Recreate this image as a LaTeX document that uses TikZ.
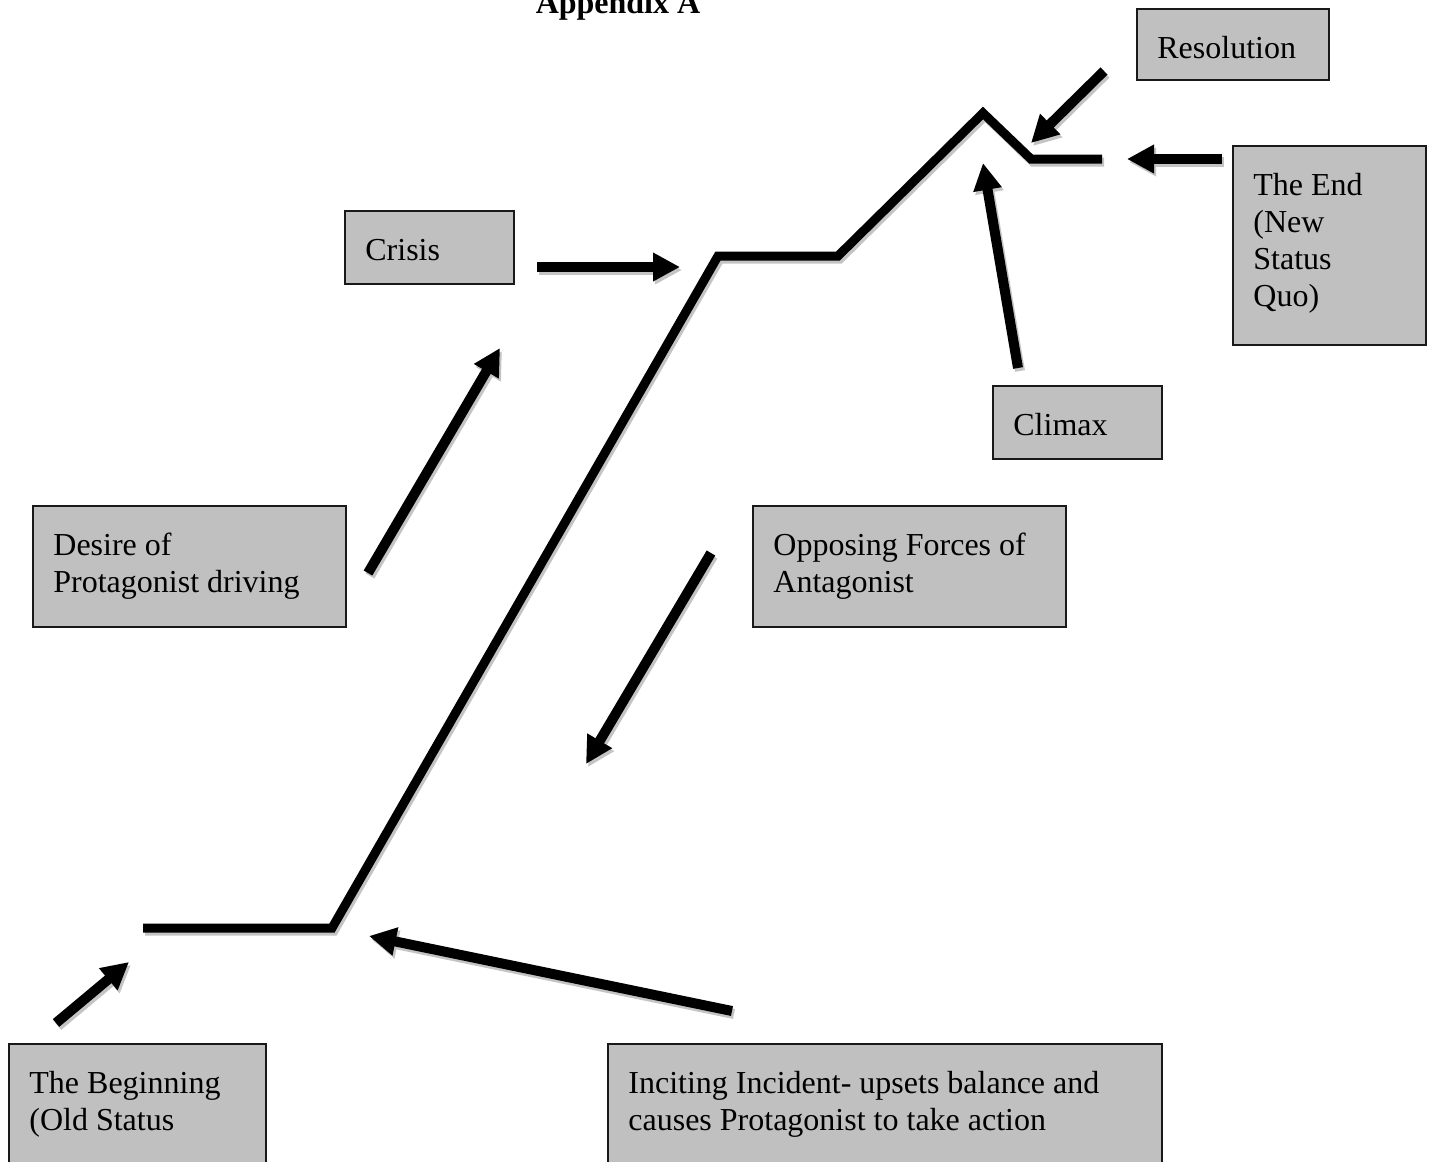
\documentclass[tikz,border=0pt]{standalone}
\usepackage{fontspec}
\setmainfont{Liberation Serif}
\usetikzlibrary{arrows.meta}
\definecolor{boxgray}{HTML}{C0C0C0}
\definecolor{shadowgray}{HTML}{C4C4C4}
\begin{document}
\begin{tikzpicture}[x=0.5pt,y=-0.5pt,
  box/.style={draw=black!90, line width=1pt, fill=boxgray, anchor=north west, inner sep=0pt},
  lbl/.style={anchor=north west, inner sep=0pt, align=left, xshift=10.5pt, yshift=-12pt,
              font=\fontsize{16}{18.5}\selectfont},
  plotline/.style={line width=4.5pt, line join=miter},
  arr/.style={line width=5pt, -{Triangle[length=13.5pt,width=13.5pt]}},
]
\fill[white] (0,0) rectangle (1432,1162);
\useasboundingbox (0,0) rectangle (1432,1162);

% title
\node[anchor=base, inner sep=0pt, font=\fontsize{16}{18.5}\selectfont\bfseries] (title) at (618,13) {Appendix A};

% boxes
\node[box, minimum width=96pt,   minimum height=35.5pt] (resbox)    at (1136,8)   {};
\node[box, minimum width=96.5pt, minimum height=99.5pt] (endbox)    at (1232,145) {};
\node[box, minimum width=84.5pt, minimum height=36.5pt] (crisisbox) at (344,210)  {};
\node[box, minimum width=84.5pt, minimum height=36.5pt] (climaxbox) at (992,385)  {};
\node[box, minimum width=156.5pt,minimum height=60.5pt] (desirebox) at (32,505)   {};
\node[box, minimum width=156.5pt,minimum height=60.5pt] (opposebox) at (752,505)  {};
\node[box, minimum width=128.5pt,minimum height=72pt]   (beginbox)  at (8,1043)   {};
\node[box, minimum width=277pt,  minimum height=72pt]   (incitebox) at (607,1043) {};

% texts
\node[lbl] (restext)    at (resbox.north west)    {\strut Resolution};
\node[lbl] (endtext)    at (endbox.north west)    {\strut The End\\(New\\Status\\Quo)};
\node[lbl] (crisistext) at (crisisbox.north west) {\strut Crisis};
\node[lbl] (climaxtext) at (climaxbox.north west) {\strut Climax};
\node[lbl] (desiretext) at (desirebox.north west) {\strut Desire of\\Protagonist driving};
\node[lbl] (opposetext) at (opposebox.north west) {\strut Opposing Forces of\\Antagonist};
\node[lbl] (begintext)  at (beginbox.north west)  {\strut The Beginning\\(Old Status};
\node[lbl] (incitetext) at (incitebox.north west) {\strut Inciting Incident- upsets balance and\\causes Protagonist to take action};

% story line points
\coordinate (p1) at (143,928);
\coordinate (p2) at (332,928);
\coordinate (p3) at (718,256);
\coordinate (p4) at (838,256);
\coordinate (p5) at (983,113);
\coordinate (p6) at (1031,159);
\coordinate (p7) at (1102,159);

% arrow end points
\coordinate (crA) at (537,267);  \coordinate (crB) at (680,267);
\coordinate (deA) at (368,573);  \coordinate (deB) at (500,348);
\coordinate (opA) at (711,553);  \coordinate (opB) at (586,764);
\coordinate (clA) at (1018,368); \coordinate (clB) at (983,163);
\coordinate (reA) at (1104,71);  \coordinate (reB) at (1031,143);
\coordinate (enA) at (1222,159); \coordinate (enB) at (1127,159);
\coordinate (beA) at (56,1023);  \coordinate (beB) at (129,962);
\coordinate (inA) at (732,1011); \coordinate (inB) at (369,936);

% shadows
\begin{scope}[transform canvas={xshift=1pt,yshift=-1.5pt}]
  \draw[plotline, shadowgray] (p1) -- (p2) -- (p3) -- (p4) -- (p5) -- (p6) -- (p7);
  \foreach \a/\b in {crA/crB, deA/deB, opA/opB, clA/clB, reA/reB, enA/enB, beA/beB, inA/inB}
    \draw[arr, shadowgray] (\a) -- (\b);
\end{scope}

% story line
\draw[plotline, black] (p1) -- (p2) -- (p3) -- (p4) -- (p5) -- (p6) -- (p7);

% arrows
\foreach \a/\b in {crA/crB, deA/deB, opA/opB, clA/clB, reA/reB, enA/enB, beA/beB, inA/inB}
  \draw[arr, black] (\a) -- (\b);
\end{tikzpicture}
\end{document}
